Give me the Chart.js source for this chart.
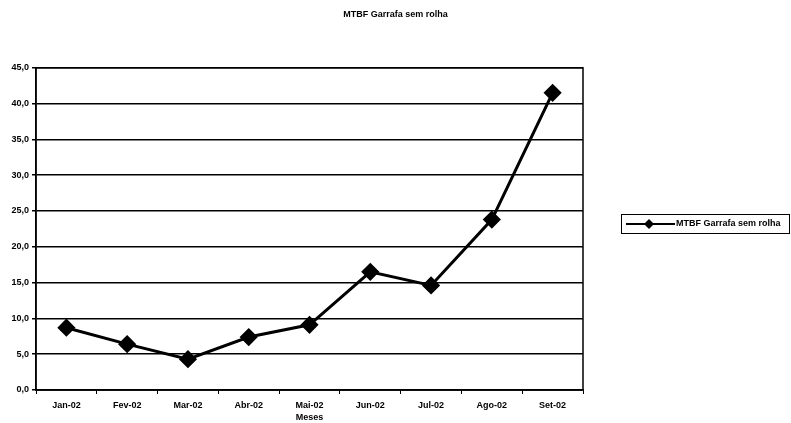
<!DOCTYPE html>
<html>
<head>
<meta charset="utf-8">
<script src="https://cdn.jsdelivr.net/npm/chart.js@4"></script>
<style>
  html, body { margin: 0; padding: 0; background: #fff; }
  #chart { display: block; }
</style>
</head>
<body>
<canvas id="chart" width="791" height="423"></canvas>
<script>
// Chart data
const months = ['Jan-02', 'Fev-02', 'Mar-02', 'Abr-02', 'Mai-02', 'Jun-02', 'Jul-02', 'Ago-02', 'Set-02'];
const mtbfValues = [8.7, 6.4, 4.3, 7.4, 9.1, 16.5, 14.6, 23.8, 41.5];
const seriesName = 'MTBF Garrafa sem rolha';
const chartTitle = 'MTBF Garrafa sem rolha';
const xAxisTitle = 'Meses';

const FONT = '"Liberation Sans", Arial, sans-serif';

// Legend with border, drawn at the right side like the original
const boxedLegend = {
    id: 'boxedLegend',
    afterDraw(chart) {
        const ctx = chart.ctx;
        const ds = chart.data.datasets[0];
        const x = 621, y = 214, w = 168, h = 19;
        ctx.save();
        ctx.strokeStyle = '#000';
        ctx.lineWidth = 1;
        ctx.strokeRect(x + 0.5, y + 0.5, w, h);
        const cy = y + h / 2 + 0.5;
        ctx.lineWidth = 2;
        ctx.beginPath();
        ctx.moveTo(x + 5, cy);
        ctx.lineTo(x + 54, cy);
        ctx.stroke();
        ctx.fillStyle = ds.pointBackgroundColor;
        ctx.beginPath();
        ctx.moveTo(x + 28, cy - 5);
        ctx.lineTo(x + 33, cy);
        ctx.lineTo(x + 28, cy + 5);
        ctx.lineTo(x + 23, cy);
        ctx.closePath();
        ctx.fill();
        ctx.fillStyle = '#000';
        ctx.font = 'bold 9px ' + FONT;
        ctx.textBaseline = 'middle';
        ctx.fillText(ds.label, x + 55, cy);
        ctx.restore();
    }
};

// Outer frame of the plot area
const plotFrame = {
    id: 'plotFrame',
    afterDatasetsDraw(chart) {
        const a = chart.chartArea;
        const ctx = chart.ctx;
        ctx.save();
        ctx.strokeStyle = '#000';
        ctx.lineWidth = 1.5;
        ctx.strokeRect(a.left, a.top, a.right - a.left, a.bottom - a.top);
        ctx.restore();
    }
};

new Chart(document.getElementById('chart'), {
    type: 'line',
    data: {
        labels: months,
        datasets: [{
            label: seriesName,
            data: mtbfValues,
            borderColor: '#000',
            borderWidth: 3,
            pointStyle: 'rectRot',
            pointRadius: 7,
            pointBackgroundColor: '#000',
            pointBorderColor: '#000',
            tension: 0
        }]
    },
    options: {
        responsive: false,
        animation: false,
        layout: { padding: 0 },
        plugins: {
            legend: { display: false },
            tooltip: { enabled: false },
            title: {
                display: true,
                text: chartTitle,
                color: '#000',
                font: { family: FONT, size: 9, weight: 'bold', lineHeight: 1.2 },
                padding: { top: 9, bottom: 48 }
            }
        },
        scales: {
            x: {
                offset: true,
                grid: {
                    offset: true,
                    drawOnChartArea: false,
                    drawTicks: true,
                    tickLength: 4,
                    color: '#000'
                },
                border: { color: '#000', width: 1.5 },
                ticks: {
                    color: '#000',
                    padding: 6,
                    maxRotation: 0,
                    font: { family: FONT, size: 9, weight: 'bold' }
                },
                title: {
                    display: true,
                    text: xAxisTitle,
                    color: '#000',
                    padding: { top: 0, bottom: 0 },
                    font: { family: FONT, size: 9, weight: 'bold' }
                },
                afterFit(scale) { scale.height = 33; }
            },
            y: {
                min: 0,
                max: 45,
                ticks: {
                    stepSize: 5,
                    color: '#000',
                    padding: 3,
                    font: { family: FONT, size: 9, weight: 'bold' },
                    callback: (v) => v.toFixed(1).replace('.', ',')
                },
                grid: {
                    color: '#000',
                    lineWidth: 1.5,
                    tickLength: 4
                },
                border: { color: '#000', width: 1.5 },
                afterFit(scale) { scale.width = 36; }
            },
            // empty space on the right where the legend sits
            legendSpace: {
                type: 'linear',
                position: 'right',
                display: true,
                ticks: { display: false },
                grid: { display: false, drawOnChartArea: false },
                border: { display: false },
                afterFit(scale) { scale.width = 208; }
            }
        }
    },
    plugins: [boxedLegend, plotFrame]
});
</script>
</body>
</html>
